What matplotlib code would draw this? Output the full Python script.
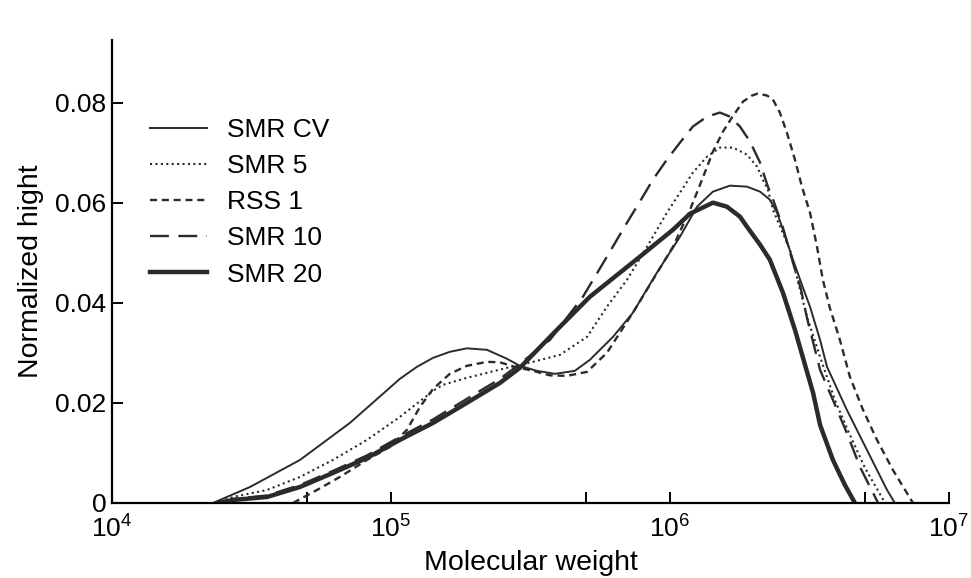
import matplotlib
matplotlib.use("Agg")
import matplotlib.pyplot as plt
import numpy as np

plt.rcParams['font.family'] = ['Liberation Sans', 'DejaVu Sans']
plt.rcParams['mathtext.default'] = 'regular'

# values: log10(molecular weight), normalized height
smr_cv_logm = [4.362, 4.495, 4.674, 4.853, 4.971, 5.032, 5.093, 5.151, 5.211, 5.272, 5.344,
               5.416, 5.462, 5.523, 5.588, 5.659, 5.713, 5.796, 5.867, 5.953, 6.036, 6.097,
               6.154, 6.215, 6.276, 6.323, 6.358, 6.384, 6.405, 6.441, 6.473, 6.502, 6.538,
               6.563, 6.634, 6.706, 6.778, 6.806]
smr_cv_h = [0.0, 0.0032, 0.0086, 0.016, 0.0218, 0.0248, 0.0272, 0.029, 0.0302, 0.0309, 0.0306,
            0.0288, 0.0274, 0.0264, 0.0258, 0.0264, 0.0286, 0.0332, 0.038, 0.046, 0.0532, 0.0592,
            0.0622, 0.0634, 0.0632, 0.0622, 0.0606, 0.058, 0.0546, 0.0486, 0.0436, 0.0392, 0.0326,
            0.0272, 0.0186, 0.0106, 0.0026, 0.0]

smr5_logm = [4.37, 4.434, 4.556, 4.674, 4.792, 4.914, 5.032, 5.151, 5.186, 5.272, 5.344, 5.416,
             5.509, 5.606, 5.703, 5.774, 5.846, 5.918, 5.989, 6.036, 6.082, 6.133, 6.179, 6.226,
             6.276, 6.312, 6.333, 6.351, 6.369, 6.430, 6.491, 6.538, 6.591, 6.645, 6.699, 6.771]
smr5_h = [0.0, 0.0012, 0.0026, 0.0052, 0.0086, 0.0126, 0.0172, 0.0224, 0.0236, 0.025, 0.026, 0.027,
          0.0282, 0.0296, 0.0332, 0.0392, 0.0446, 0.0512, 0.058, 0.062, 0.066, 0.0692, 0.071, 0.071,
          0.0696, 0.0672, 0.0646, 0.0626, 0.0586, 0.0506, 0.0372, 0.0292, 0.0206, 0.0136, 0.007, 0.0]

rss1_logm = [4.649, 4.735, 4.817, 4.914, 4.996, 5.057, 5.104, 5.151, 5.211, 5.272, 5.344, 5.391,
             5.437, 5.509, 5.570, 5.631, 5.703, 5.774, 5.867, 5.939, 6.011, 6.072, 6.118, 6.154,
             6.190, 6.222, 6.262, 6.294, 6.315, 6.348, 6.369, 6.394, 6.419, 6.448, 6.473, 6.502,
             6.527, 6.548, 6.573, 6.609, 6.645, 6.692, 6.742, 6.799, 6.871]
rss1_h = [0.0, 0.0026, 0.0052, 0.0086, 0.0112, 0.0146, 0.0192, 0.0228, 0.0258, 0.0274, 0.0282, 0.0281,
          0.0273, 0.0264, 0.0255, 0.0254, 0.0262, 0.030, 0.038, 0.0446, 0.0512, 0.0586, 0.065, 0.0702,
          0.0742, 0.077, 0.0802, 0.0814, 0.0818, 0.0814, 0.0806, 0.078, 0.074, 0.0686, 0.0632, 0.058,
          0.0512, 0.0446, 0.039, 0.0326, 0.0252, 0.0186, 0.0126, 0.0066, 0.0]

smr10_logm = [4.39, 4.434, 4.556, 4.674, 4.792, 4.914, 5.032, 5.151, 5.272, 5.391, 5.462, 5.570,
              5.688, 5.774, 5.846, 5.892, 5.939, 5.989, 6.036, 6.082, 6.133, 6.179, 6.215, 6.251,
              6.287, 6.323, 6.351, 6.366, 6.405, 6.441, 6.470, 6.491, 6.520, 6.538, 6.584, 6.634,
              6.681, 6.746]
smr10_h = [0.0, 0.0008, 0.0015, 0.0036, 0.0064, 0.0095, 0.0132, 0.0167, 0.0208, 0.0248, 0.0278, 0.0326,
           0.0412, 0.0492, 0.056, 0.0602, 0.0646, 0.0686, 0.072, 0.0752, 0.0772, 0.078, 0.0772, 0.0752,
           0.0722, 0.068, 0.0632, 0.0612, 0.055, 0.048, 0.0426, 0.037, 0.0306, 0.0266, 0.0206, 0.014,
           0.0072, 0.0]

smr20_logm = [4.38, 4.434, 4.556, 4.674, 4.792, 4.914, 5.032, 5.151, 5.272, 5.391, 5.462, 5.595,
              5.713, 5.892, 6.011, 6.072, 6.154, 6.204, 6.251, 6.276, 6.323, 6.358, 6.405, 6.448,
              6.484, 6.513, 6.538, 6.584, 6.627, 6.663]
smr20_h = [0.0, 0.0006, 0.0012, 0.0032, 0.006, 0.009, 0.0126, 0.016, 0.020, 0.024, 0.027, 0.0346,
           0.0412, 0.0492, 0.0546, 0.0578, 0.060, 0.0592, 0.0572, 0.0552, 0.0516, 0.0486, 0.042, 0.0346,
           0.0276, 0.022, 0.0156, 0.0086, 0.0036, 0.0]

labels = ['SMR CV', 'SMR 5', 'RSS 1', 'SMR 10', 'SMR 20']

fig = plt.figure(figsize=(9.71, 5.78), dpi=100)
ax = fig.add_axes([0.1153, 0.1298, 0.8620, 0.8010])

line_color = '#2b2b2b'
series = [
    (smr_cv_logm, smr_cv_h, dict(lw=1.4, ls='-')),
    (smr5_logm, smr5_h, dict(lw=1.5, ls=(0, (1, 1.6)))),
    (rss1_logm, rss1_h, dict(lw=1.7, ls=(0, (3, 2)))),
    (smr10_logm, smr10_h, dict(lw=1.7, ls=(0, (8, 4)))),
    (smr20_logm, smr20_h, dict(lw=3.2, ls='-')),
]
for (lx, h, style), lab in zip(series, labels):
    ax.plot(10 ** np.array(lx), h, color=line_color, label=lab,
            solid_joinstyle='round', dash_joinstyle='round', **style)

ax.set_xscale('log')
ax.set_xlim(1e4, 1e7)
ax.set_ylim(0, 0.0925)

ax.set_xticks([1e4, 1e5, 1e6, 1e7])
ax.set_xticklabels(['$10^4$', '$10^5$', '$10^6$', '$10^7$'])
ax.set_xticks([5e4, 5e5, 5e6], minor=True)
ax.set_xticklabels([], minor=True)
ax.set_yticks([0, 0.02, 0.04, 0.06, 0.08])
ax.set_yticklabels(['0', '0.02', '0.04', '0.06', '0.08'])

ax.tick_params(axis='both', which='both', direction='in', length=8, width=1.4,
               labelsize=19, pad=4)
ax.tick_params(axis='x', pad=9)

for side in ['top', 'right']:
    ax.spines[side].set_visible(False)
for side in ['left', 'bottom']:
    ax.spines[side].set_linewidth(1.6)

ax.set_xlabel('Molecular weight', fontsize=20.5, labelpad=5)
ax.set_ylabel('Normalized hight', fontsize=20.5, labelpad=8)

ax.legend(loc='upper left', bbox_to_anchor=(150 / 971, 1 - 118 / 578),
          bbox_transform=fig.transFigure, frameon=False, fontsize=19,
          handlelength=2.15, handletextpad=0.75, labelspacing=0.46,
          borderpad=0, borderaxespad=0)

fig.savefig('out.png', dpi=100)
